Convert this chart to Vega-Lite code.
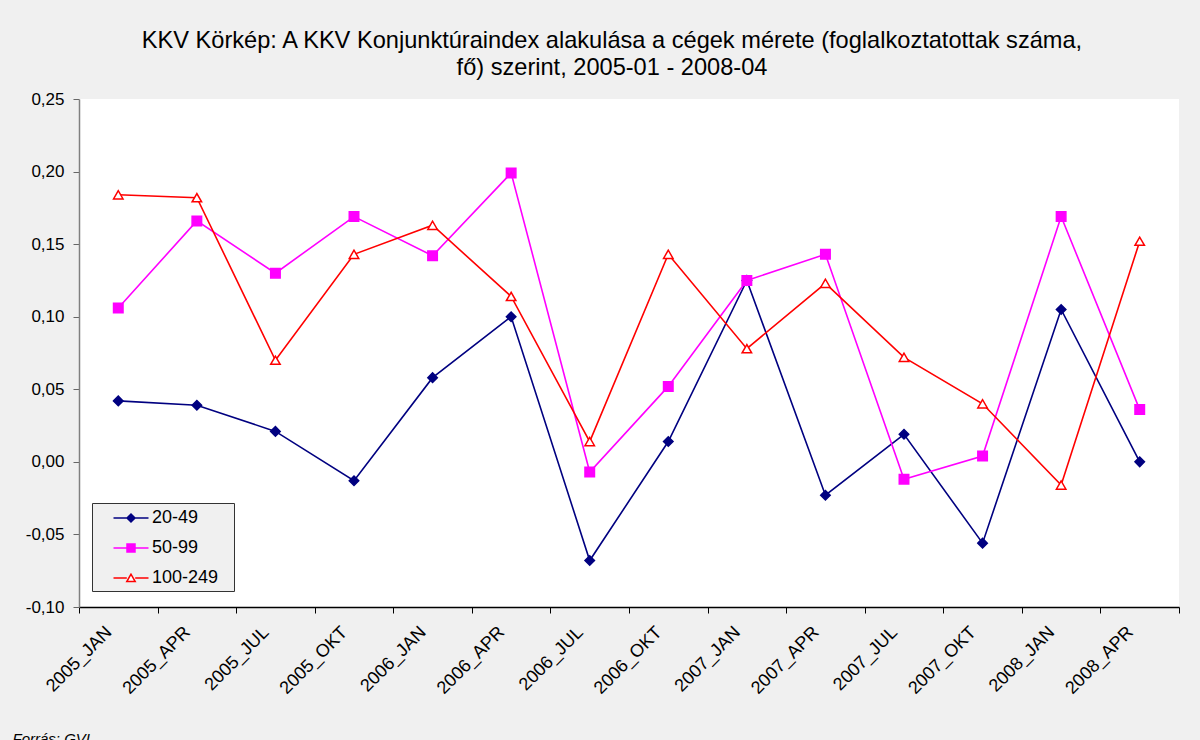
{
  "$schema": "https://vega.github.io/schema/vega-lite/v6.json",
  "width": 1100,
  "height": 508,
  "autosize": {"type": "none"},
  "padding": {"left": 79, "top": 99, "right": 21, "bottom": 133},
  "background": "#f0f0f0",
  "title": {
    "text": ["KKV Körkép: A KKV Konjunktúraindex alakulása a cégek mérete (foglalkoztatottak száma,", "fő) szerint, 2005-01 - 2008-04"],
    "font": "Liberation Sans",
    "fontSize": 23.6,
    "fontWeight": "normal",
    "color": "#000000",
    "anchor": "middle",
    "dx": -17,
    "offset": 10,
    "lineHeight": 27
  },
  "config": {
    "view": {"fill": "#ffffff", "stroke": null},
    "font": "Liberation Sans"
  },
  "data": {
    "values": [
      {"period": "2005_JAN", "series": "20-49", "value": 0.042},
      {"period": "2005_APR", "series": "20-49", "value": 0.039},
      {"period": "2005_JUL", "series": "20-49", "value": 0.021},
      {"period": "2005_OKT", "series": "20-49", "value": -0.013},
      {"period": "2006_JAN", "series": "20-49", "value": 0.058},
      {"period": "2006_APR", "series": "20-49", "value": 0.100},
      {"period": "2006_JUL", "series": "20-49", "value": -0.068},
      {"period": "2006_OKT", "series": "20-49", "value": 0.014},
      {"period": "2007_JAN", "series": "20-49", "value": 0.125},
      {"period": "2007_APR", "series": "20-49", "value": -0.023},
      {"period": "2007_JUL", "series": "20-49", "value": 0.019},
      {"period": "2007_OKT", "series": "20-49", "value": -0.056},
      {"period": "2008_JAN", "series": "20-49", "value": 0.105},
      {"period": "2008_APR", "series": "20-49", "value": 0.000},
      {"period": "2005_JAN", "series": "50-99", "value": 0.106},
      {"period": "2005_APR", "series": "50-99", "value": 0.166},
      {"period": "2005_JUL", "series": "50-99", "value": 0.130},
      {"period": "2005_OKT", "series": "50-99", "value": 0.169},
      {"period": "2006_JAN", "series": "50-99", "value": 0.142},
      {"period": "2006_APR", "series": "50-99", "value": 0.199},
      {"period": "2006_JUL", "series": "50-99", "value": -0.007},
      {"period": "2006_OKT", "series": "50-99", "value": 0.052},
      {"period": "2007_JAN", "series": "50-99", "value": 0.125},
      {"period": "2007_APR", "series": "50-99", "value": 0.143},
      {"period": "2007_JUL", "series": "50-99", "value": -0.012},
      {"period": "2007_OKT", "series": "50-99", "value": 0.004},
      {"period": "2008_JAN", "series": "50-99", "value": 0.169},
      {"period": "2008_APR", "series": "50-99", "value": 0.036},
      {"period": "2005_JAN", "series": "100-249", "value": 0.184},
      {"period": "2005_APR", "series": "100-249", "value": 0.182},
      {"period": "2005_JUL", "series": "100-249", "value": 0.070},
      {"period": "2005_OKT", "series": "100-249", "value": 0.143},
      {"period": "2006_JAN", "series": "100-249", "value": 0.163},
      {"period": "2006_APR", "series": "100-249", "value": 0.114},
      {"period": "2006_JUL", "series": "100-249", "value": 0.014},
      {"period": "2006_OKT", "series": "100-249", "value": 0.143},
      {"period": "2007_JAN", "series": "100-249", "value": 0.078},
      {"period": "2007_APR", "series": "100-249", "value": 0.123},
      {"period": "2007_JUL", "series": "100-249", "value": 0.072},
      {"period": "2007_OKT", "series": "100-249", "value": 0.040},
      {"period": "2008_JAN", "series": "100-249", "value": -0.016},
      {"period": "2008_APR", "series": "100-249", "value": 0.152}
    ]
  },
  "encoding": {
    "x": {
      "field": "period",
      "type": "nominal",
      "sort": null,
      "scale": {"type": "band", "paddingInner": 0, "paddingOuter": 0},
      "axis": {
        "title": "Forrás: GVI",
        "titleFont": "Liberation Sans",
        "titleFontSize": 15,
        "titleFontStyle": "italic",
        "titleFontWeight": "normal",
        "titleColor": "#000000",
        "titleAlign": "left",
        "titleAnchor": null,
        "titleBaseline": "top",
        "titleX": -67,
        "titleY": 124,
        "labelAngle": -45,
        "labelAlign": "right",
        "labelBaseline": "top",
        "labelFontSize": 18,
        "labelColor": "#000000",
        "labelPadding": 10,
        "labelOffset": -16,
        "tickBand": "extent",
        "tickSize": 6,
        "tickColor": "#000000",
        "domainColor": "#000000",
        "domainWidth": 1.5,
        "grid": false
      }
    },
    "y": {
      "field": "value",
      "type": "quantitative",
      "scale": {"domain": [-0.1, 0.25], "nice": false, "zero": false},
      "axis": {
        "title": null,
        "values": [-0.1, -0.05, 0, 0.05, 0.1, 0.15, 0.2, 0.25],
        "labelExpr": "replace(replace(format(datum.value, '.2f'), '.', ','), '\u2212', '-')",
        "labelFontSize": 17,
        "labelColor": "#000000",
        "labelPadding": 9,
        "tickSize": 6,
        "tickColor": "#666666",
        "domainColor": "#808080",
        "domainWidth": 1.5,
        "grid": false
      }
    }
  },
  "layer": [
    {
      "mark": {"type": "line", "strokeWidth": 1.6},
      "encoding": {
        "color": {
          "field": "series",
          "type": "nominal",
          "scale": {"domain": ["20-49", "50-99", "100-249"], "range": ["#000080", "#ff00ff", "#ff0000"]},
          "legend": null
        },
        "detail": {"field": "series"}
      }
    },
    {
      "mark": {"type": "point", "filled": false, "opacity": 1, "strokeWidth": 1.5},
      "encoding": {
        "color": {
          "field": "series",
          "type": "nominal",
          "scale": {"domain": ["20-49", "50-99", "100-249"], "range": ["#000080", "#ff00ff", "#ff0000"]},
          "legend": null
        },
        "fill": {
          "field": "series",
          "type": "nominal",
          "scale": {"domain": ["20-49", "50-99", "100-249"], "range": ["#000080", "#ff00ff", "#ffffff"]},
          "legend": null
        },
        "shape": {
          "field": "series",
          "type": "nominal",
          "scale": {"domain": ["20-49", "50-99", "100-249"], "range": ["diamond", "square", "triangle-up"]},
          "legend": null
        },
        "size": {"value": 90}
      }
    },
    {
      "transform": [{"filter": "false"}],
      "mark": {
        "type": "point",
        "filled": false,
        "opacity": 1,
        "strokeWidth": 1.5,
        "stroke": {"expr": "datum.value === '20-49' ? '#000080' : datum.value === '50-99' ? '#ff00ff' : '#ff0000'"},
        "fill": {"expr": "datum.value === '20-49' ? '#000080' : datum.value === '50-99' ? '#ff00ff' : '#ffffff'"}
      },
      "encoding": {
        "shape": {
          "field": "series",
          "type": "nominal",
          "scale": {
            "domain": ["20-49", "50-99", "100-249"],
            "range": [
              "M-1.75,0L-0.4,0M-0.4,0L0,-0.4L0.4,0L0,0.4ZM0.4,0L1.75,0",
              "M-1.75,0L-0.4,0M-0.4,-0.4L0.4,-0.4L0.4,0.4L-0.4,0.4ZM0.4,0L1.75,0",
              "M-1.75,0L-0.42,0M0,-0.38L-0.42,0.36L0.42,0.36ZM0.42,0L1.75,0"
            ]
          },
          "legend": {
            "title": ".",
            "titleOrient": "right",
            "titleFontSize": 6,
            "titleOpacity": 0,
            "titlePadding": 10,
            "orient": "none",
            "legendX": 13,
            "legendY": 404,
            "fillColor": "#f0f0f0",
            "strokeColor": "#333333",
            "padding": 4,
            "rowPadding": 10,
            "symbolSize": 400,
            "symbolOffset": 24,
            "symbolStrokeWidth": 1.5,
            "labelOffset": 10,
            "labelFontSize": 18,
            "labelColor": "#000000",
            "labelFont": "Liberation Sans"
          }
        }
      }
    }
  ],
  "resolve": {"scale": {"shape": "independent"}}
}
